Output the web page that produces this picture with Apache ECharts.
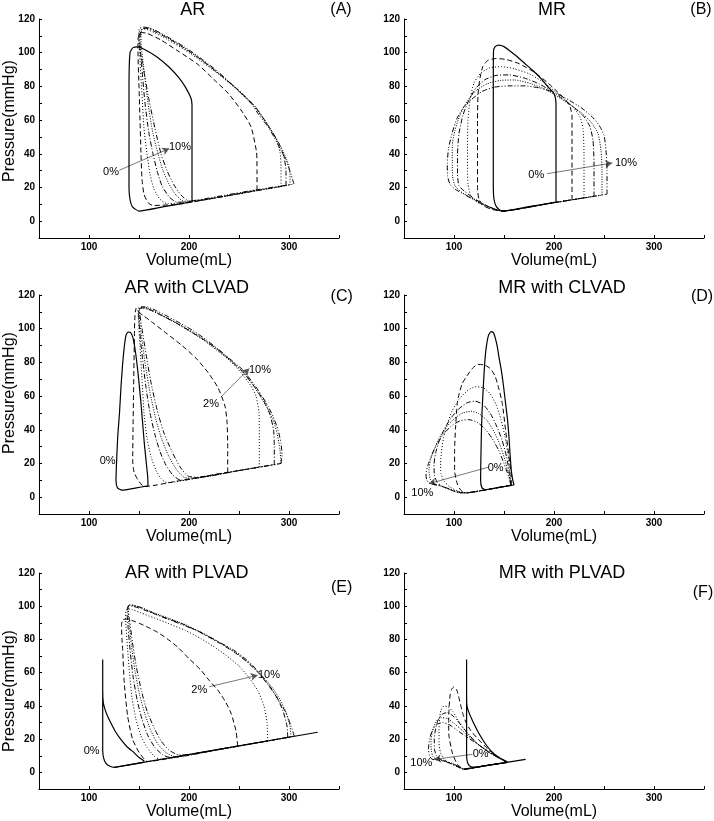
<!DOCTYPE html>
<html>
<head>
<meta charset="utf-8">
<script src="https://cdn.jsdelivr.net/npm/echarts@6/dist/echarts.min.js"></script>
<style>
html, body { margin: 0; padding: 0; background: #fff; }
#main { width: 714px; height: 821px; }
</style>
</head>
<body>
<div id="main"></div>
<script>
// tick labels
var volumeTicks = [100, 200, 300];
var pressureTicks = [0, 20, 40, 60, 80, 100, 120];
var levels = ['0%', '2%', '4%', '6%', '8%', '10%'];

// (A) AR  -- [volume mL, pressure mmHg]
var loopA0 = [[203,11.5],[203,40],[203,69],[202,73],[197,79],[190,85],[180,91.5],[168,97.5],[157,101.5],[149,103.5],[144,103],[141,100],[140,80],[140,50],[140,20],[141,13],[143.5,8.5],[150,6],[175,8.6],[203,11.5]];
var loopA2 = [[268,18.4],[268,30],[267.5,41],[262,56],[252,66],[239,76],[225,84],[209,93],[189,101],[172,107.5],[158,111.5],[152,112],[149,108],[149,100],[150,80],[151,60],[152,40],[153,25],[155,16],[159,11],[164,9.3],[190,10.1],[230,14.2],[268,18.4]];
var loopA4 = [[292,20.6],[292,32],[291,41],[287,49],[279,57],[265,68],[248,78],[230,87],[212,95],[195,102],[178,108],[165,112],[156,114],[151,113],[150,106],[151,95],[153,75],[155,55],[158,40],[161,28],[165,19],[171,13],[178,10.4],[200,11.2],[250,16.3],[292,20.6]];
var loopA6 = [[297,21.1],[297,30],[295,38],[290,46],[280,56],[266,68],[249,78],[231,87],[213,95.5],[196,102.5],[179,108.5],[166,112.5],[157,114.5],[152,113.5],[151,106],[153,90],[156,70],[160,52],[164,40],[168,30],[173,21],[180,14.5],[188,11.2],[210,12.2],[255,16.8],[297,21.1]];
var loopA8 = [[301,21.6],[301,28],[298,36],[292,44],[281,55],[267,67.5],[250,77.5],[232,86.5],[214,95],[197,102],[180,108.5],[167,113],[158,115],[153,114],[152,107],[155,90],[159,70],[164,52],[169,40],[174,30],[180,22],[187,15.5],[195,11.8],[220,13.2],[260,17.3],[301,21.6]];
var loopA10 = [[305,22],[302,27.7],[298,35],[292,42],[285,50],[279,56],[270,63],[262,70],[245,80],[229,88.7],[212,96.6],[195,103.6],[179,109.2],[165,113.6],[155,115.2],[150,114],[150,107],[154,92],[160,72],[166,55],[172,40],[178,30],[185,21.5],[192,15.5],[200,12],[230,14.8],[270,18.9],[305,22]];
var arrowA = [[130.3,30.2],[180.3,43.1]];
var labelsA = [['0%',122,29.2],['10%',191,44]];

// (B) MR
var loopB0 = [[202,11.3],[202,40],[202,70],[200,75.8],[195,79],[188,84],[180,88.8],[170,94],[163,97.7],[155,101.5],[150,103.6],[145,104.5],[141,103.5],[139.5,101],[139.3,80],[139.3,50],[139.3,20],[140,13],[142.5,8.5],[148,6],[175,8.6],[202,11.3]];
var loopB2 = [[218,12.7],[218,40],[218,62],[216,68],[211,72.5],[203,77],[193,82.5],[180,88.5],[165,93.5],[152,96],[142,96.5],[134,95.5],[129,92],[126,85],[124,75],[123.5,60],[123.5,40],[123.5,20],[125,13],[130,9],[138,7],[148,6],[180,9],[218,12.7]];
var loopB4 = [[230,13.8],[230,40],[229,55],[226,62],[220,67],[211,72],[200,77.5],[188,83],[175,87.5],[160,90.5],[147,91.7],[136,91],[127,88],[120,82],[116,72],[114,60],[113.5,45],[113.5,30],[114,22],[117,15],[125,10.5],[135,8],[148,6],[190,10],[230,13.8]];
var loopB6 = [[240,14.7],[240,35],[239,48],[236,56],[230,62],[221,67],[210,72],[198,77],[185,81.5],[170,85],[155,86.8],[142,86.5],[131,84],[122,79],[115,72],[109,63],[105,52],[103.5,40],[103.5,28],[105,21],[110,18],[120,13.5],[135,8.5],[148,6],[195,10.5],[240,14.7]];
var loopB8 = [[248,15.5],[248,30],[247,42],[244,52],[238,58],[230,63],[219,68],[206,73],[192,78],[176,81.8],[160,83.8],[146,83.5],[133,81.5],[122,77.5],[113,71],[106,63],[101,54],[98.3,45],[98.3,35],[98.5,27],[101,21],[108,17],[120,13],[135,8.5],[148,6],[200,11],[248,15.5]];
var loopB10 = [[253,16],[253,30],[252,42],[250,51],[245,57],[238,62],[228,67],[216,71.5],[202,76],[186,79],[170,80.3],[155,80.3],[140,79.5],[128,77],[118,72.5],[110,68],[103,61],[98,52],[94.5,43],[93.3,34],[93.5,27],[96,22],[101,19],[110,16],[125,11],[137,8],[148,6],[200,11],[253,16]];
var arrowB = [[193.3,28.2],[258.3,34.5]];
var labelsB = [['0%',182.3,27.7],['10%',272,34.5]];

// (C) AR with CLVAD
var loopC0 = [[159,6.7],[158.7,12],[157,22],[155.3,32],[153.5,45],[152,55.6],[150.5,65],[148.7,75.4],[146.5,86],[144,94.5],[141.5,97.8],[139,98],[137,96],[135.3,89.3],[133.5,78],[132,65.5],[130.5,50],[128.7,35.7],[127.5,20],[127,10],[128.5,5.5],[133,4.2],[146,5.4],[159,6.7]];
var loopC2 = [[238.7,14.7],[238.7,30],[238,45],[236,54],[229,65],[219,74],[207,82.5],[193,90],[178,97],[165,103],[155,107.5],[149,110],[147,112],[146,108],[145.5,100],[145,80],[144.5,60],[144,40],[143.7,22],[145,15],[148.7,10.5],[155,6.3],[195,10.3],[238.7,14.7]];
var loopC4 = [[270.3,17.8],[270.3,35],[270,50],[267,60],[262,66],[252,74],[240,81.5],[228,87],[215,93],[202,98],[188,103],[175,107],[163,110.5],[154,112.5],[149,112],[149.5,105],[151,90],[153,70],[155,50],[158,35],[162,24],[167,16],[172,11],[178,8.6],[220,12.8],[270.3,17.8]];
var loopC6 = [[285.3,19.3],[285.3,30],[284.5,40],[281,49],[275,57],[266,65],[255,73.5],[242,81],[229,87.5],[215,93.5],[201,98.5],[187,103.5],[174,107.5],[162,111],[153,112.3],[149.5,111],[150.5,100],[153,85],[157,65],[161,50],[166,37],[171,27],[177,19],[184,13],[192,10],[230,13.8],[285.3,19.3]];
var loopC8 = [[292,20],[291,28],[288,38],[284,46],[278.7,52.5],[271,60],[265,66],[252,75.6],[240,81.5],[228.7,87.5],[217,92.5],[205.3,97.4],[192,102],[178.7,106.3],[168,109.5],[158.7,112.3],[152,113],[150,110],[152,98],[156,80],[161,62],[167,46],[173,34],[180,24],[188,16],[196,11.5],[205,11.3],[250,15.8],[292,20]];
var loopC10 = [[292,20],[293,25],[292,32],[289,40],[284,48],[279,54],[272,61],[265,67],[253,76],[241,82],[229,88],[217,93.5],[205,98.5],[192,103],[179,107.2],[168,110.5],[159,112.8],[153,113],[150.5,111],[153,100],[157,85],[162,68],[168,52],[175,38],[183,27],[191,18],[199,12.5],[210,11.8],[250,15.8],[292,20]];
var arrowC = [[232,59.5],[260.3,76.4]];
var labelsC = [['0%',118.7,21.4],['2%',222,55.2],['10%',271,75.6]];

// (D) MR with CLVAD
var loopD0 = [[160,7.2],[158.5,11],[157.3,16],[156,26],[155,35.7],[153.5,46],[151.6,55.6],[149.5,66],[147.3,75.4],[145,83],[143.3,89.3],[141.5,94],[139.5,97.5],[137,98.2],[134.5,96],[132.5,90],[131,82],[129.3,65.5],[128,50],[127.3,35.7],[126.8,20],[126.6,10],[128,5.5],[131.6,4.5],[145,5.8],[160,7.2]];
var loopD2 = [[157.3,7.1],[157.3,11.9],[155,23.8],[151.6,39.7],[148.3,55.6],[145,64],[141,72],[136,76.5],[130,78.5],[124,78.8],[118.5,76.5],[113,72],[108.3,67.5],[105,61],[103.3,55.6],[101.6,41.7],[100.6,27.8],[100.6,15.9],[103.3,7.9],[107,4],[112,2.5],[135,4.7],[157.3,7.1]];
var loopD4 = [[157,7],[156,14],[154,25],[151,36],[147,46],[142,55],[136,61.5],[129,65],[121,65.5],[113,63],[105,58],[98,51],[93,43],[89.5,35],[87.5,27],[86.6,20],[87,14],[90,9.5],[96,6],[104,3.5],[112,2.5],[135,4.7],[157,7]];
var loopD6 = [[157,7],[155.5,14],[152.5,24],[148,34],[142,43],[136,50],[129,55],[121,57],[113,56],[105,52.5],[97,47],[90,40],[85,33],[81.5,26],[80,19],[80.5,13],[83,9],[88,6.5],[96,4.5],[106,2.5],[114,2.7],[135,4.7],[157,7]];
var loopD8 = [[157,7],[155,13],[151,22],[146,31],[140,39],[133,45.5],[125,49.5],[117,51],[109,50],[101,47],[93,42],[86,36],[80.5,29],[76.5,22],[75,16],[76,11],[79,8.5],[85,7],[94,5],[104,2.8],[114,2.7],[135,4.7],[157,7]];
var loopD10 = [[157,7],[154.5,12.5],[150,20],[144.5,28],[138,35],[131,40.5],[123,44.5],[115,46],[107,45.5],[99,43],[91,38.5],[84,32.5],[78,25.5],[74,19],[72,14],[72.5,10.5],[75,8.5],[80,7.5],[88,6.5],[97,4.5],[106,2.8],[114,2.7],[135,4.7],[157,7]];
var arrowD = [[135,17.9],[75,8]];
var labelsD = [['0%',141.6,17.5],['10%',68.3,2.4]];

// (E) AR with PLVAD
var loopE0 = [[155.3,6.9],[150,9],[145.3,11.8],[138,15.5],[132,19.7],[126.5,24.5],[122,29.6],[118.5,34],[116,38],[114.3,42],[113.7,50],[113.7,68],[113.7,50],[113.7,30],[113.7,14],[114.5,9],[117,5.5],[121,3.7],[125.3,3.1],[140,4.6],[155.3,6.2]];
var passiveE = [[125.3,3.1],[328.7,24.2]];
var loopE2 = [[248.7,15.9],[247,25],[242,35.7],[236,43],[228.7,49.6],[220,55.5],[212,61.5],[200,68.5],[188.7,75.4],[178,80.5],[168.7,84.3],[160,87],[152,89.3],[145,91],[138.7,92.2],[134,92],[132.5,89],[133,80],[133.7,73.4],[135.3,53.6],[138.7,33.7],[143.7,19.8],[150.3,11.9],[158.7,6.6],[200,10.8],[248.7,15.9]];
var loopE4 = [[278.7,19],[278,30],[275,40],[269,49],[260,57],[250,64],[237,70.5],[224,76],[212,80.5],[196,85.5],[180,89.5],[165,93],[152,96],[143,98],[138.5,98.5],[136.5,96],[137,88],[138.5,75],[140.5,60],[143,45],[147,32],[152,22],[158,15],[165,10],[171,7.9],[220,12.9],[278.7,19]];
var loopE6 = [[298.7,21.1],[298,28],[294,37],[288,45],[280,52],[270,59.5],[258,66.5],[245,72.5],[230,78],[212,84],[195,89],[178.7,92.5],[165,95.5],[152,98.5],[144,100],[139.5,100.3],[138,97],[139,88],[141,74],[144,58],[148,44],[153,32],[159,22],[166,15],[174,10.5],[182,9],[240,15],[298.7,21.1]];
var loopE8 = [[302,21.5],[301,28],[297,36],[291,44],[282,52],[271,59.5],[259,66.5],[246,72.5],[231,78],[213,84],[196,89],[179,93],[165,96],[153,99],[145,100.5],[140.5,100.8],[139,98],[140,90],[142.5,76],[146,61],[150.5,47],[156,35],[162,25],[169,17],[177,12],[186,9.5],[193,9.9],[250,15.8],[302,21.5]];
var loopE10 = [[305.3,21.8],[302,28],[297,36],[292,41],[285,48],[278.7,53.6],[270,60],[262,65.5],[254,69.5],[245.3,73.4],[230,78.5],[212,84.3],[195,88.5],[178.7,92.3],[165,95.7],[152,99.2],[145,100.5],[140.3,100.8],[139,99],[140.5,92],[143.5,78],[147.5,63],[152.5,49],[158,37],[165,27],[172,19],[180,13.5],[190,10.5],[200,10.8],[250,15.9],[305.3,21.8]];
var arrowE = [[220.3,51.6],[268.7,58.5]];
var labelsE = [['0%',102.7,12.9],['2%',210.3,49.6],['10%',280,58.5]];

// (F) MR with PLVAD
var loopF0 = [[153.3,6.5],[145,9],[137,13],[130,18.5],[124,24.5],[119,30.5],[115,36],[113,40],[112.6,45],[112.6,68],[112.6,45],[112.6,20],[112.6,10],[113.5,6],[116,3.8],[120,3.2],[135,4.5],[153.3,6.1]];
var passiveF = [[110,2],[171.6,7.9]];
var loopF2 = [[153,6.1],[145,9],[135,13.5],[125,19.5],[117,25],[112,30],[108.5,36],[106.5,41],[104.5,46],[102.5,50],[100,51.5],[97.5,50],[96,46],[95,38],[94.7,30],[95,21.8],[98.3,11.9],[103.3,5],[110,2],[130,3.9],[153,6.1]];
var loopF4 = [[153,6.1],[145,8.5],[135,12],[125,16.5],[117,21],[110,26],[104,31.5],[99,36.5],[94,39.5],[90,40],[87,37.5],[85.5,32],[85,25],[85,18],[86.5,12],[90,8],[96,5.5],[103,3.5],[110,2],[130,3.9],[153,6.1]];
var loopF6 = [[153,6.1],[144,9],[134,12.5],[124,17],[116,22],[109,27],[103,31.5],[98,34.5],[93,36],[88,35],[84,31.5],[81.5,26],[80.3,20],[80.5,14],[82.5,10],[86,8],[92,6.5],[100,4.5],[110,2],[130,3.9],[153,6.1]];
var loopF8 = [[153,6.1],[143,9.5],[132,13.5],[122,18],[113,22.5],[106,26.5],[99,30],[93,32.5],[87,33],[82,30.5],[78.5,25],[77,19],[77.3,13],[79,9.5],[83,7.8],[90,6.8],[98,5.5],[105,3.5],[110,2],[130,3.9],[153,6.1]];
var loopF10 = [[153,6.1],[142,10],[131,14],[120,18.5],[111,22],[103,25.5],[96,28.5],[89,30],[83,29],[78.5,25.5],[75.5,20],[74.5,14],[75.5,10],[78,8],[83,7.5],[90,7],[98,5.5],[105,3.5],[110,2],[130,3.9],[153,6.1]];
var arrowF = [[118.3,10.9],[80,7.9]];
var labelsF = [['0%',126.6,10.9],['10%',67.3,6]];

var panels = [
    {title: 'AR', tag: '(A)', loops: [loopA0, loopA2, loopA4, loopA6, loopA8, loopA10], extra: [], arrow: arrowA, labels: labelsA},
    {title: 'MR', tag: '(B)', loops: [loopB0, loopB2, loopB4, loopB6, loopB8, loopB10], extra: [], arrow: arrowB, labels: labelsB},
    {title: 'AR with CLVAD', tag: '(C)', loops: [loopC0, loopC2, loopC4, loopC6, loopC8, loopC10], extra: [], arrow: arrowC, labels: labelsC},
    {title: 'MR with CLVAD', tag: '(D)', loops: [loopD0, loopD2, loopD4, loopD6, loopD8, loopD10], extra: [], arrow: arrowD, labels: labelsD},
    {title: 'AR with PLVAD', tag: '(E)', loops: [loopE0, loopE2, loopE4, loopE6, loopE8, loopE10], extra: [passiveE], arrow: arrowE, labels: labelsE},
    {title: 'MR with PLVAD', tag: '(F)', loops: [loopF0, loopF2, loopF4, loopF6, loopF8, loopF10], extra: [passiveF], arrow: arrowF, labels: labelsF}
];

// layout
var gridLeft = [39, 404];
var gridTop = [19, 295, 573];
var gridHeight = [219, 219, 218];
var titlePos = [[192.7, 10], [552, 10], [186.7, 288], [562, 288], [186.7, 573], [562, 573]];
var tagPos = [[341, 10], [701, 10], [341.7, 296.7], [702, 296.7], [341.7, 587.7], [703, 592.7]];
var yNamePos = [121, 393, 691];
var dash = ['solid', [5, 3], [1, 2], [5, 2, 1, 2], [1, 1.5], [5, 2, 1, 2, 1, 2]];
var FONT = '"Liberation Sans", Arial, sans-serif';

var option = {
    animation: false,
    backgroundColor: '#fff',
    grid: [], xAxis: [], yAxis: [], series: [], graphic: []
};

panels.forEach(function (p, i) {
    var col = i % 2, row = Math.floor(i / 2);
    option.grid.push({left: gridLeft[col], top: gridTop[row], width: 300, height: gridHeight[row]});
    option.xAxis.push({
        type: 'value', gridIndex: i, min: 50, max: 350, interval: 50,
        name: 'Volume(mL)', nameLocation: 'middle', nameGap: 11,
        nameTextStyle: {fontSize: 16, color: '#000', fontFamily: FONT},
        axisLine: {onZero: false, lineStyle: {color: '#000', width: 1}},
        axisTick: {inside: true, length: 3, lineStyle: {color: '#000'}},
        axisLabel: {
            margin: 4, fontSize: 10, fontWeight: 'bold', color: '#000', fontFamily: FONT,
            formatter: function (v) { return volumeTicks.indexOf(v) >= 0 ? String(v) : ''; }
        },
        splitLine: {show: false}
    });
    option.yAxis.push({
        type: 'value', gridIndex: i, min: -10, max: 120, interval: 10,
        axisLine: {onZero: false, lineStyle: {color: '#000', width: 1}},
        axisTick: {inside: true, length: 3, lineStyle: {color: '#000'}},
        axisLabel: {
            margin: 4, fontSize: 10, fontWeight: 'bold', color: '#000', fontFamily: FONT,
            formatter: function (v) { return pressureTicks.indexOf(v) >= 0 ? String(v) : ''; }
        },
        splitLine: {show: false}
    });

    p.loops.forEach(function (loop, k) {
        option.series.push({
            type: 'line', name: p.title + ' ' + levels[k], xAxisIndex: i, yAxisIndex: i,
            data: loop, showSymbol: false, symbol: 'none', smooth: 0.2, silent: true,
            lineStyle: {color: '#000', width: k === 0 ? 1.2 : 1, type: dash[k]},
            z: 10 - k
        });
    });
    p.extra.forEach(function (seg) {
        option.series.push({
            type: 'line', xAxisIndex: i, yAxisIndex: i, data: seg, showSymbol: false,
            symbol: 'none', silent: true, lineStyle: {color: '#000', width: 1.2}
        });
    });
    // arrow
    option.series.push({
        type: 'line', xAxisIndex: i, yAxisIndex: i, data: [], silent: true,
        markLine: {
            silent: true, symbol: ['none', 'arrow'], symbolSize: [6, 7],
            label: {show: false},
            lineStyle: {color: '#555', width: 0.8, type: 'solid', opacity: 1},
            data: [[{coord: p.arrow[0]}, {coord: p.arrow[1]}]]
        }
    });
    // percentage labels
    option.series.push({
        type: 'scatter', xAxisIndex: i, yAxisIndex: i, symbolSize: 0, silent: true,
        itemStyle: {opacity: 1, color: '#000'},
        data: p.labels.map(function (l) { return {name: l[0], value: [l[1], l[2]]}; }),
        label: {
            show: true, position: [0, 0], align: 'center', verticalAlign: 'middle',
            formatter: '{b}', fontSize: 11, color: '#000', textBorderWidth: 0,
            fontFamily: FONT
        },
        z: 20
    });

    option.graphic.push({
        type: 'text', x: titlePos[i][0], y: titlePos[i][1],
        style: {text: p.title, fill: '#000', font: '18px ' + FONT, align: 'center', verticalAlign: 'middle'}
    });
    option.graphic.push({
        type: 'text', x: tagPos[i][0], y: tagPos[i][1],
        style: {text: p.tag, fill: '#000', font: '16px ' + FONT, align: 'center', verticalAlign: 'middle'}
    });
    if (col === 0) {
        option.graphic.push({
            type: 'text', x: 10, y: yNamePos[row], rotation: Math.PI / 2,
            style: {text: 'Pressure(mmHg)', fill: '#000', font: '16px ' + FONT, align: 'center', verticalAlign: 'middle'}
        });
    }
});

var myChart = echarts.init(document.getElementById('main'));
myChart.setOption(option);
</script>
</body>
</html>
